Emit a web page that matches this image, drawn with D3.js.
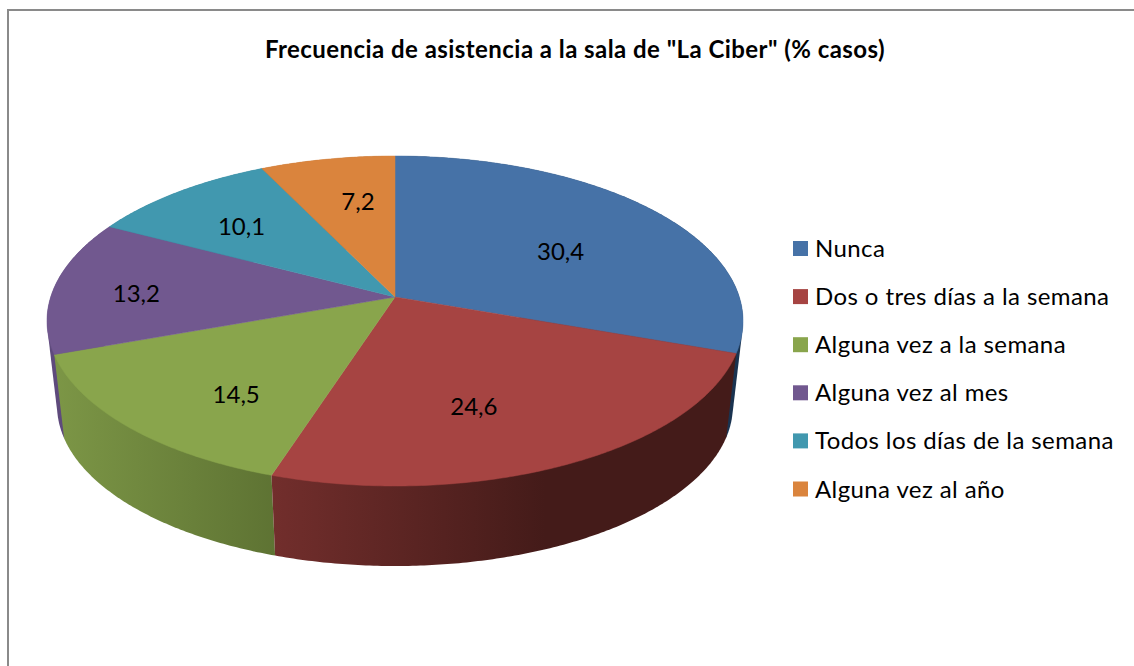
<!DOCTYPE html>
<html><head><meta charset="utf-8">
<script src="https://cdn.jsdelivr.net/npm/d3@7/dist/d3.min.js"></script>
<style>html,body{margin:0;padding:0;background:#fff;overflow:hidden}svg{display:block}text{font-family:Lato,"Open Sans",sans-serif;fill:#000}</style>
</head><body>
<svg id="c" width="1134" height="666"></svg>
<script>
const title = 'Frecuencia de asistencia a la sala de "La Ciber" (% casos)';
const categories = ["Nunca","Dos o tres días a la semana","Alguna vez a la semana","Alguna vez al mes","Todos los días de la semana","Alguna vez al año"];
const values = [30.4,24.6,14.5,13.2,10.1,7.2];
const colors = ["#4672A7","#A64442","#89A54C","#71588F","#4198AF","#DA843D"];
// side wall gradients (left, right) and where the right colour is reached
const sideLeft  = ["#1A3350","#722E2C","#7C9646","#5E4A7C","#2F7186","#A5632D"];
const sideRight = ["#1A3350","#441B19","#5E7333","#5E4A7C","#2F7186","#A5632D"];
const sideExtent = [[640,745],[272,545],[55,275],[40,120],[100,270],[260,400]];
// layout nudges for labels, in pixels
const labelNudge = [[0,8],[-24,11],[0,20],[-47,2],[-14,-4],[7,-7]];

const W=1134,H=666;
const svg=d3.select("#c");
const defs=svg.append("defs");

// perspective projection of the unit disc on screen
const k=0.1455, A=344.3, B=161.5;
const topFace={x0:395,y0:297,s:1}, bottomFace={x0:395,y0:382.5,s:0.971};
function project(face,angle,r){
  const u=Math.sin(angle)*r, v=-Math.cos(angle)*r, d=1-k*v;
  return [face.x0+face.s*A*u/d, face.y0+face.s*B*v/d];
}
const slices=d3.pie().sort(null).value(d=>d)(values);
const line=d3.line();
function arcPts(face,a0,a1){
  const n=Math.max(2,Math.ceil((a1-a0)/0.01));
  return d3.range(n+1).map(i=>project(face,a0+(a1-a0)*i/n,1));
}

// frame
svg.append("path").attr("d",d3.line()([[W,10],[8,10],[8,H]]))
  .attr("fill","none").attr("stroke","#8a8a8a").attr("stroke-width",2);

// title
svg.append("text").attr("x",575).attr("y",58).attr("text-anchor","middle")
  .attr("font-size",24).attr("letter-spacing",0.45).attr("font-weight",700).text(title);

// side walls
slices.forEach((s,i)=>{
  const g=defs.append("linearGradient").attr("id","side"+i).attr("gradientUnits","userSpaceOnUse")
    .attr("x1",sideExtent[i][0]).attr("x2",sideExtent[i][1]).attr("y1",0).attr("y2",0);
  g.append("stop").attr("offset",0).attr("stop-color",sideLeft[i]);
  g.append("stop").attr("offset",1).attr("stop-color",sideRight[i]);
});
const wallOrder=[0,3,4,5,2,1];
svg.append("g").selectAll("path").data(wallOrder).join("path")
  .attr("fill",i=>`url(#side${i})`)
  .attr("d",i=>{
    const s=slices[i];
    const hull=d3.polygonHull(arcPts(topFace,s.startAngle,s.endAngle).concat(arcPts(bottomFace,s.startAngle,s.endAngle)));
    return line(hull)+"Z";
  });

// top faces
svg.append("g").selectAll("path").data(slices).join("path")
  .attr("fill",(d,i)=>colors[i])
  .attr("stroke",(d,i)=>colors[i]).attr("stroke-width",0.5)
  .attr("d",d=>line([[topFace.x0,topFace.y0]].concat(arcPts(topFace,d.startAngle,d.endAngle)))+"Z");

// value labels
const fmt=v=>d3.format(".1f")(v).replace(".",",");
svg.append("g").selectAll("text").data(slices).join("text")
  .attr("text-anchor","middle").attr("dominant-baseline","central").attr("font-size",24)
  .attr("transform",(d,i)=>{
    const p=project(topFace,(d.startAngle+d.endAngle)/2,0.62);
    return `translate(${p[0]+labelNudge[i][0]},${p[1]+labelNudge[i][1]})`;
  })
  .text(d=>fmt(d.value));

// legend
const rowY=d3.scalePoint().domain(categories).range([248.5,489]);
const leg=svg.append("g").selectAll("g").data(categories).join("g")
  .attr("transform",d=>`translate(793,${rowY(d)})`);
leg.append("rect").attr("x",0).attr("y",-7.5).attr("width",15).attr("height",15)
  .attr("fill",(d,i)=>colors[i]);
leg.append("text").attr("x",22).attr("y",-1).attr("dominant-baseline","central")
  .attr("font-size",24).attr("letter-spacing",0.4).text(d=>d);
</script>
</body></html>
